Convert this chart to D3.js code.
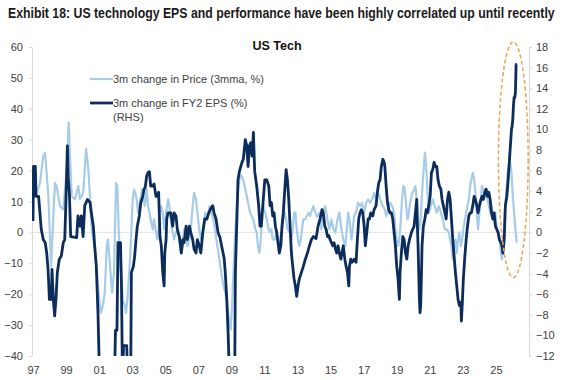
<!DOCTYPE html>
<html lang="en">
<head>
<meta charset="UTF-8">
<title>US Tech EPS and performance</title>
<script src="https://cdn.jsdelivr.net/npm/d3@7"></script>
<style>
    body { margin: 0; background: #fff; }
    svg { display: block; font-family: "Liberation Sans", Arial, sans-serif; }
    .axis path, .axis line { stroke: #d9d9d9; }
    .axis text { fill: #404040; font-size: 11px; }
</style>
</head>
<body>
<svg id="chart" width="569" height="380"></svg>
<script>
'use strict';

// Tick labels
const yearTicks = [1997, 1999, 2001, 2003, 2005, 2007, 2009, 2011, 2013, 2015, 2017, 2019, 2021, 2023, 2025];
const leftTicks = [-40, -30, -20, -10, 0, 10, 20, 30, 40, 50, 60];
const rightTicks = [-12, -10, -8, -6, -4, -2, 0, 2, 4, 6, 8, 10, 12, 14, 16, 18];

// 3m change in Price (3mma, %), left axis: [year, value]
const priceData = [
    [1997.00, 20.4], [1997.02, 16], [1997.22, 12.8], [1997.42, 16], [1997.62, 24.7], [1997.73, 25.8],
    [1997.93, 11.7], [1998.03, -2.3], [1998.09, -11], [1998.23, 5.3], [1998.33, 16], [1998.43, 15],
    [1998.63, 8.5], [1998.83, 7.4], [1999.04, 20.4], [1999.16, 35.5], [1999.34, 11.7], [1999.54, 10.7],
    [1999.74, 15], [1999.84, 10.7], [2000.04, 12.8], [2000.21, 27], [2000.35, 20.4], [2000.55, 1],
    [2000.75, -5.5], [2000.85, -13], [2000.97, -19.5], [2001.10, -26], [2001.22, -23.8], [2001.34, -19.5],
    [2001.46, -4.4], [2001.54, -2.3], [2001.66, -11], [2001.78, -19.5], [2001.90, -13], [2002.02, 16],
    [2002.10, 15], [2002.18, 1], [2002.31, -13], [2002.43, -21.7], [2002.55, -23.8], [2002.63, -26],
    [2002.71, -21.7], [2002.79, -15], [2002.87, -8.7], [2002.95, 1], [2003.03, 10.7], [2003.11, 13.9],
    [2003.19, 12.8], [2003.27, 10.7], [2003.35, 6.4], [2003.43, 8.5], [2003.52, 11.7], [2003.59, 13.9],
    [2003.67, 11.7], [2003.76, 8.5], [2003.88, 13.9], [2003.96, 8.5], [2004.04, 6.4], [2004.12, 4.2],
    [2004.24, 1], [2004.32, 4.2], [2004.44, 0], [2004.52, -2.3], [2004.60, 1], [2004.68, 6.4],
    [2004.76, 8.5], [2004.85, 6.4], [2004.93, 1], [2005.05, 6.4], [2005.17, 10.7], [2005.25, 8.5],
    [2005.33, 4.2], [2005.45, 0], [2005.53, -2.3], [2005.65, 0], [2005.73, 1], [2005.85, -2.3],
    [2005.97, -6.6], [2006.06, -4.4], [2006.14, 1], [2006.26, 0], [2006.34, -4.4], [2006.46, -2.3],
    [2006.54, 1], [2006.66, 8.5], [2006.74, 12.8], [2006.86, 10.7], [2006.94, 6.4], [2007.06, 1],
    [2007.15, -2.3], [2007.27, 0], [2007.35, 4.2], [2007.42, 6.4], [2007.55, 4.2], [2007.67, 8.5],
    [2007.79, 6.4], [2007.91, 4.2], [2008.03, 0], [2008.15, -4.4], [2008.27, -8.7], [2008.39, -13],
    [2008.51, -17], [2008.72, -21.7], [2008.88, -29], [2008.96, -31.4], [2009.04, -23.8], [2009.12, -13],
    [2009.24, 1], [2009.36, 11.7], [2009.48, 17.2], [2009.60, 18.5], [2009.72, 17], [2009.84, 13.9],
    [2009.93, 11.7], [2010.05, 8.5], [2010.13, 6.4], [2010.33, 4.2], [2010.45, 1], [2010.53, 0],
    [2010.61, -4.4], [2010.69, -6.6], [2010.78, -2.3], [2010.85, 6.4], [2010.93, 8.5], [2011.05, 6.4],
    [2011.14, 4.2], [2011.26, 1], [2011.34, 0], [2011.42, 1], [2011.50, -2.3], [2011.62, -2.3],
    [2011.74, 0], [2011.86, -4.4], [2011.94, -2.3], [2012.06, 1], [2012.14, 4.2], [2012.23, 6.4],
    [2012.31, 4.2], [2012.39, 1], [2012.55, 0], [2012.63, -2.3], [2012.71, 1], [2012.79, 6.4],
    [2012.87, 6.4], [2012.95, 1], [2013.03, -2.3], [2013.11, -4.4], [2013.20, -2.3], [2013.27, 1],
    [2013.35, 4.2], [2013.47, 4.2], [2013.56, 5.3], [2013.68, 6.4], [2013.76, 5.3], [2013.88, 7.4],
    [2013.96, 8.5], [2014.08, 6.4], [2014.18, 5], [2014.32, 6.4], [2014.44, 1], [2014.53, 6.4],
    [2014.68, 8.5], [2014.81, 4.2], [2014.93, 1], [2015.05, 4.2], [2015.17, 1], [2015.29, 0],
    [2015.41, 4.2], [2015.53, 6.4], [2015.65, 1], [2015.77, -2.3], [2015.89, -4.4], [2015.98, 1],
    [2016.06, 6.4], [2016.14, 4.2], [2016.26, -2.3], [2016.34, 1], [2016.42, 5.3], [2016.54, 6.4],
    [2016.66, 9.6], [2016.78, 8.5], [2016.90, 9.6], [2017.03, 6.4], [2017.15, 9.6], [2017.27, 10.7],
    [2017.39, 9.6], [2017.51, 10.7], [2017.63, 12.8], [2017.75, 10.7], [2017.87, 12.8], [2017.95, 11.7],
    [2018.07, 9.6], [2018.16, 8.5], [2018.28, 7.4], [2018.36, 5.3], [2018.48, 7.4], [2018.60, 9.6],
    [2018.72, 8.5], [2018.84, 6.4], [2018.92, 1], [2019.00, -2.3], [2019.08, -4.4], [2019.16, -2.3],
    [2019.25, 4.2], [2019.32, 10.7], [2019.40, 15], [2019.49, 13.9], [2019.57, 8.5], [2019.65, 4.2],
    [2019.73, 6.4], [2019.81, 9.6], [2019.89, 11.7], [2019.97, 13], [2020.05, 13.9], [2020.13, 15],
    [2020.21, 10.7], [2020.29, 4.2], [2020.37, 1], [2020.45, 4.2], [2020.53, 12.8], [2020.61, 19.3],
    [2020.70, 25.8], [2020.78, 21.5], [2020.86, 12.8], [2020.94, 6.4], [2021.06, 8.5], [2021.18, 10.7],
    [2021.30, 8.5], [2021.42, 6.4], [2021.54, 8.5], [2021.67, 6.4], [2021.79, 4.2], [2021.91, 1],
    [2022.03, 1], [2022.15, 0], [2022.23, -2.3], [2022.31, -4.4], [2022.39, -8.7], [2022.47, -4.4],
    [2022.55, -2.3], [2022.63, -6.6], [2022.71, -2.3], [2022.79, 0], [2022.88, -4.4], [2022.96, -2.3],
    [2023.03, 1], [2023.12, 4.2], [2023.20, 6.4], [2023.28, 8.5], [2023.36, 10.7], [2023.44, 15],
    [2023.52, 17.2], [2023.60, 19.3], [2023.68, 17.2], [2023.76, 12.8], [2023.84, 6.4], [2023.92, 1],
    [2024.00, 6.4], [2024.09, 10.7], [2024.16, 15], [2024.24, 12.8], [2024.33, 13.9], [2024.41, 11.7],
    [2024.49, 10.7], [2024.57, 8.5], [2024.65, 6.4], [2024.73, 8.5], [2024.81, 6.4], [2024.89, 4.2],
    [2024.97, 6.4], [2025.05, 1], [2025.13, 0], [2025.21, -2.3], [2025.30, -6.6], [2025.37, -8.7],
    [2025.45, -2.3], [2025.54, 6.4], [2025.62, 12.8], [2025.70, 19.3], [2025.78, 21.5], [2025.86, 22.6],
    [2025.94, 19.3], [2026.02, 11.7], [2026.10, 6.4], [2026.18, 1], [2026.26, -3.3]
];

// 3m change in FY2 EPS (%), right axis: [year, value]
const epsData = [
    [1997.00, 1.1], [1997.03, 6.4], [1997.14, 6.4], [1997.18, 3.5], [1997.34, 3.5], [1997.42, 1.9],
    [1997.50, 0.3], [1997.62, -0.7], [1997.74, -1.0], [1997.83, -2.0], [1997.91, -3.6], [1997.95, -4.9],
    [1997.99, -6.5], [1998.11, -6.5], [1998.15, -3.6], [1998.23, -6.5], [1998.31, -8.1], [1998.39, -6.5],
    [1998.47, -3.9], [1998.59, -2.6], [1998.71, -2.3], [1998.83, -1.0], [1998.92, -0.7], [1999.00, 3.5],
    [1999.08, 8.4], [1999.14, 5.1], [1999.20, 3.9], [1999.28, -0.4], [1999.64, -0.5], [1999.72, 1.6],
    [1999.84, 0.6], [1999.92, 1.6], [2000.03, -0.4], [2000.13, 2.6], [2000.29, 3.2], [2000.45, 2.9],
    [2000.53, 1.9], [2000.65, 0.6], [2000.73, -1.3], [2000.83, -3.3], [2000.93, -7.8], [2000.99, -11.8],
    [2001.05, -14], [2001.93, -14], [2001.99, -9.5], [2002.08, -9.5], [2002.14, -1.0], [2002.29, -1.0],
    [2002.35, -5], [2002.41, -14], [2002.48, -11], [2002.67, -11], [2002.72, -14], [2002.91, -14],
    [2002.95, -3.9], [2003.07, -3.3], [2003.15, -2.3], [2003.23, -0.7], [2003.31, 0.6], [2003.43, 1.6],
    [2003.52, 2.9], [2003.64, 3.5], [2003.72, 4.2], [2003.79, 4.4], [2003.88, 5.5], [2003.96, 5.8],
    [2004.04, 5.9], [2004.12, 4.5], [2004.24, 4.5], [2004.32, 4.7], [2004.44, 3.5], [2004.52, 3.5],
    [2004.60, 3.9], [2004.68, -0.4], [2004.76, -1.3], [2004.85, -3.9], [2004.93, -5.2], [2004.97, -2.0],
    [2005.05, -0.7], [2005.09, 1.3], [2005.17, 1.9], [2005.33, 1.9], [2005.45, 0.6], [2005.53, 1.9],
    [2005.65, 1.6], [2005.73, 0.3], [2005.85, -0.4], [2005.97, -2.0], [2006.06, -0.7], [2006.14, -1.0],
    [2006.26, 0.6], [2006.34, -0.7], [2006.46, 0.6], [2006.54, 0], [2006.66, -0.7], [2006.74, -1.6],
    [2006.86, -2.0], [2006.94, -0.7], [2007.06, -1.3], [2007.15, -2.0], [2007.27, 0], [2007.39, 1.3],
    [2007.51, 1.3], [2007.63, 1.9], [2007.75, 2.3], [2007.87, 2.6], [2007.95, 1.9], [2008.07, 1.3],
    [2008.19, 0], [2008.31, -0.5], [2008.43, -1.5], [2008.56, -2.5], [2008.63, -3.9], [2008.72, -6.5],
    [2008.80, -9.7], [2008.88, -14], [2009.20, -14], [2009.24, -3.9], [2009.32, 0.6], [2009.40, 5.1],
    [2009.48, 5.9], [2009.57, 6.4], [2009.64, 6.8], [2009.72, 7.1], [2009.84, 9.0], [2009.93, 8.4],
    [2010.01, 6.4], [2010.09, 8.4], [2010.17, 8.7], [2010.25, 7.4], [2010.33, 9.7], [2010.41, 5.9],
    [2010.53, 4.5], [2010.65, 2.6], [2010.73, 0.6], [2010.81, 0.6], [2010.90, 2.6], [2011.02, 5.1],
    [2011.14, 5.1], [2011.26, 4.5], [2011.34, 2.6], [2011.42, 2.9], [2011.50, 1.6], [2011.58, 1.9],
    [2011.66, 0.6], [2011.74, 0], [2011.82, -1.0], [2011.90, -2.0], [2011.99, -1.3], [2012.06, 0.6],
    [2012.14, 1.9], [2012.23, 4.2], [2012.31, 6.1], [2012.39, 5.1], [2012.47, 3.2], [2012.55, 0.6],
    [2012.63, -2.0], [2012.71, -3.3], [2012.79, -4.5], [2012.87, -5.2], [2012.95, -6.2], [2013.03, -5.2],
    [2013.11, -4.5], [2013.23, -3.9], [2013.35, -3.3], [2013.47, -2.6], [2013.60, -2.0], [2013.72, -1.3],
    [2013.84, -0.7], [2013.96, -0.4], [2014.12, -0.6], [2014.24, 0.6], [2014.36, 1.3], [2014.48, 2.2],
    [2014.56, 1.9], [2014.65, 0.6], [2014.73, 0.3], [2014.81, -0.4], [2014.89, -0.3], [2014.97, -0.7],
    [2015.05, -1.0], [2015.13, -1.3], [2015.21, -1.0], [2015.29, -1.6], [2015.37, -2.0], [2015.45, -1.3],
    [2015.53, -2.0], [2015.62, -2.6], [2015.69, -2.0], [2015.77, -1.3], [2015.86, -2.6], [2015.94, -3.3],
    [2016.02, -3.9], [2016.10, -5.2], [2016.14, -3.3], [2016.22, -2.6], [2016.30, -2.9], [2016.42, -2.6],
    [2016.54, -2.9], [2016.62, -0.7], [2016.70, 1.3], [2016.78, 1.9], [2016.86, 2.2], [2016.95, 1.9],
    [2017.03, 0.6], [2017.10, -1.3], [2017.19, 0], [2017.27, 1.3], [2017.35, 1.3], [2017.43, 1.9],
    [2017.55, 1.6], [2017.63, 2.2], [2017.75, 2.6], [2017.83, 3.9], [2017.91, 4.8], [2017.99, 5.1],
    [2018.07, 6.4], [2018.16, 7.1], [2018.24, 6.8], [2018.28, 6.4], [2018.36, 4.5], [2018.44, 2.9],
    [2018.52, 2.2], [2018.60, 1.9], [2018.68, 1.9], [2018.76, 1.3], [2018.84, 0], [2018.92, -1.3],
    [2019.00, -3.3], [2019.08, -4.5], [2019.16, -6.5], [2019.20, -3.9], [2019.28, -2.0], [2019.37, -0.4],
    [2019.45, -0.7], [2019.53, -2.0], [2019.61, -2.6], [2019.69, -1.3], [2019.77, -0.7], [2019.89, 0],
    [2019.97, 0.3], [2020.05, 0.6], [2020.13, 1.9], [2020.21, 3.2], [2020.25, 0.6], [2020.29, -1.3],
    [2020.33, -3.9], [2020.37, -6.5], [2020.41, -7.8], [2020.45, -7.1], [2020.49, -4.5], [2020.53, -1.3],
    [2020.61, 0.6], [2020.70, 1.3], [2020.78, 2.2], [2020.86, 1.9], [2020.94, 2.6], [2021.02, 3.5],
    [2021.10, 5.8], [2021.18, 6.1], [2021.26, 6.8], [2021.34, 6.4], [2021.42, 6.4], [2021.50, 5.1],
    [2021.58, 4.5], [2021.67, 4.2], [2021.74, 3.2], [2021.82, 2.6], [2021.91, 1.9], [2021.99, 1.3],
    [2022.07, 3.2], [2022.15, 3.9], [2022.23, 3.2], [2022.31, 1.3], [2022.39, -0.7], [2022.47, -2.3],
    [2022.55, -3.9], [2022.63, -5.2], [2022.71, -6.5], [2022.79, -7.1], [2022.88, -6.8], [2022.91, -8.6],
    [2022.96, -7.1], [2023.03, -4.5], [2023.12, -2.3], [2023.20, -0.7], [2023.28, 0.6], [2023.36, 1.6],
    [2023.44, 1.9], [2023.52, 1.9], [2023.60, 2.6], [2023.68, 3.5], [2023.76, 3.2], [2023.84, 2.6],
    [2023.92, 1.9], [2024.00, 2.6], [2024.09, 3.2], [2024.16, 3.5], [2024.24, 3.2], [2024.33, 3.9],
    [2024.41, 4.2], [2024.49, 3.5], [2024.57, 3.9], [2024.65, 3.2], [2024.73, 1.9], [2024.81, 1.3],
    [2024.89, 1.9], [2024.97, 0.6], [2025.05, 0.3], [2025.13, 0], [2025.21, -0.7], [2025.30, -1.0],
    [2025.37, -1.3], [2025.42, -2.0], [2025.50, -0.7], [2025.57, 2.6], [2025.66, 3.5], [2025.74, 5.1],
    [2025.82, 7.1], [2025.90, 9.0], [2025.94, 10.0], [2025.98, 10.3], [2026.02, 11.0], [2026.06, 12.3],
    [2026.10, 13.1], [2026.14, 13.1], [2026.18, 13.6], [2026.22, 16.3], [2026.26, 16.3]
];

const priceColor = '#a6cce8';
const epsColor = '#0c2d5b';

const svg = d3.select('#chart');

const x = d3.scaleLinear().domain([1997, 2027]).range([33, 529]);
const yLeft = d3.scaleLinear().domain([-40, 60]).range([356, 47]);
const yRight = d3.scaleLinear().domain([-12, 18]).range([356, 47]);

// Title, squeezed horizontally to the width of the original condensed face
const titleGroup = svg.append('g').attr('transform', 'translate(8,18)');
const title = titleGroup.append('text')
    .style('font-size', '15px').style('font-weight', 'bold').style('fill', '#1a1a1a')
    .text('Exhibit 18: US technology EPS and performance have been highly correlated up until recently');
const titleWidth = title.node().getComputedTextLength();
titleGroup.attr('transform', `translate(8,18) scale(${547 / titleWidth},1)`);

svg.append('text')
    .attr('x', 277).attr('y', 50).attr('text-anchor', 'middle')
    .style('font-size', '12.5px').style('font-weight', 'bold').style('fill', '#111')
    .text('US Tech');

// Axes
svg.append('g').attr('class', 'axis')
    .attr('transform', 'translate(32,0)')
    .call(d3.axisLeft(yLeft).tickValues(leftTicks).tickSize(3).tickSizeOuter(0).tickPadding(6));

svg.append('g').attr('class', 'axis')
    .attr('transform', 'translate(529,0)')
    .call(d3.axisRight(yRight).tickValues(rightTicks).tickSize(3).tickSizeOuter(0).tickPadding(4));

const xAxis = svg.append('g').attr('class', 'axis')
    .attr('transform', 'translate(0,357)')
    .call(d3.axisBottom(x).tickValues(yearTicks).tickSize(0).tickPadding(9)
        .tickFormat(d => d3.format('02d')(d % 100)));
xAxis.select('.domain').remove();

// zero line
svg.append('line')
    .attr('x1', 32).attr('x2', 529)
    .attr('y1', yLeft(0)).attr('y2', yLeft(0))
    .attr('stroke', '#e3e3e3').attr('stroke-width', 1);

svg.append('clipPath').attr('id', 'plot')
    .append('rect').attr('x', 32).attr('y', 40).attr('width', 497).attr('height', yLeft(-40) - 40);

const priceLine = d3.line().x(d => x(d[0])).y(d => yLeft(d[1]));
const epsLine = d3.line().x(d => x(d[0])).y(d => yRight(d[1]));

svg.append('path').datum(priceData)
    .attr('clip-path', 'url(#plot)')
    .attr('d', priceLine)
    .attr('fill', 'none').attr('stroke', priceColor).attr('stroke-width', 2.2)
    .attr('stroke-linejoin', 'round');

svg.append('path').datum(epsData)
    .attr('clip-path', 'url(#plot)')
    .attr('d', epsLine)
    .attr('fill', 'none').attr('stroke', epsColor).attr('stroke-width', 2.8)
    .attr('stroke-linejoin', 'round');

// Legend
const legend = svg.append('g').style('font-size', '11px').style('fill', '#404040');
legend.append('line').attr('x1', 90).attr('x2', 113).attr('y1', 79).attr('y2', 79)
    .attr('stroke', priceColor).attr('stroke-width', 2.2);
legend.append('text').attr('x', 113).attr('y', 83).text('3m change in Price (3mma, %)');
legend.append('line').attr('x1', 90).attr('x2', 113).attr('y1', 103).attr('y2', 103)
    .attr('stroke', epsColor).attr('stroke-width', 2.8);
legend.append('text').attr('x', 113).attr('y', 107).text('3m change in FY2 EPS (%)');
legend.append('text').attr('x', 113).attr('y', 121).text('(RHS)');

// Highlight of the recent divergence
const ringTop = yRight(18.5);
const ringBottom = yRight(-4.4);
svg.append('ellipse')
    .attr('cx', x(2026.05))
    .attr('cy', (ringTop + ringBottom) / 2)
    .attr('rx', x(2026.95) - x(2026.05))
    .attr('ry', (ringBottom - ringTop) / 2)
    .attr('fill', 'none').attr('stroke', '#f0a24e').attr('stroke-width', 1.5)
    .attr('stroke-dasharray', '4,2.5');
</script>
</body>
</html>
